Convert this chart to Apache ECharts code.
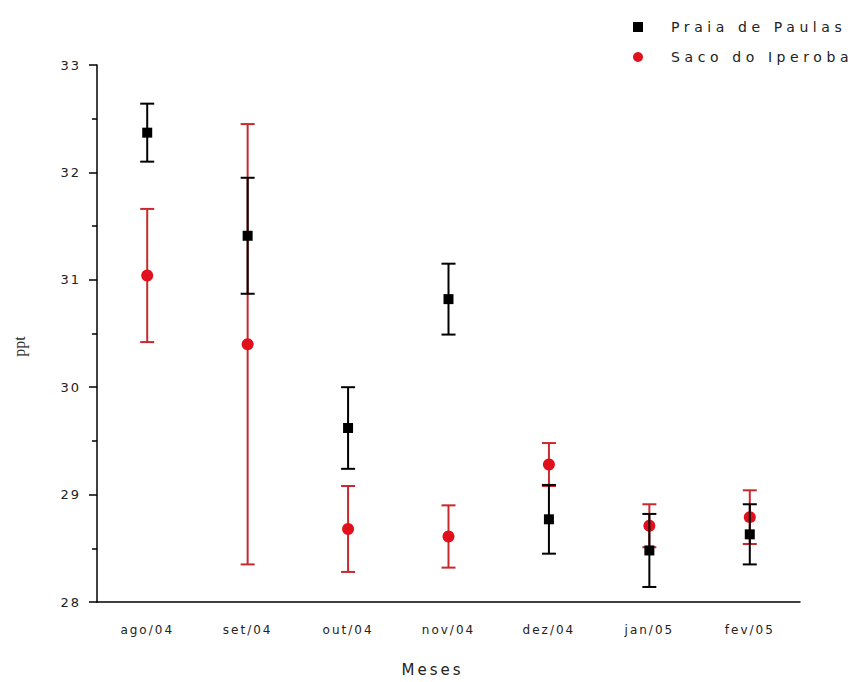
<!DOCTYPE html>
<html>
<head>
<meta charset="utf-8">
<script src="https://cdn.jsdelivr.net/npm/echarts@6/dist/echarts.min.js"></script>
<style>
html,body{margin:0;padding:0;background:#fff;}
#chart{width:862px;height:682px;}
#chart text{letter-spacing:2px;}
#chart text[style*="14px"]{letter-spacing:4.6px;}
#chart text[style*="15px"]{letter-spacing:3px;}
#chart text[style*="Serif"]{letter-spacing:0px;}
</style>
</head>
<body>
<div id="chart"></div>
<script>
// Data
var months = ['ago/04', 'set/04', 'out/04', 'nov/04', 'dez/04', 'jan/05', 'fev/05'];
var seriesNames = ['Praia de Paulas', 'Saco do Iperoba'];
var praiaMean = [32.37, 31.41, 29.62, 30.82, 28.77, 28.48, 28.63];
var praiaErr  = [0.27, 0.54, 0.38, 0.33, 0.32, 0.34, 0.28];
var sacoMean  = [31.04, 30.40, 28.68, 28.61, 29.28, 28.71, 28.79];
var sacoErr   = [0.62, 2.05, 0.40, 0.29, 0.20, 0.20, 0.25];
var yTicks = [28, 29, 30, 31, 32, 33];

function errData(mean, err) {
  return mean.map(function (m, i) { return [i, m - err[i], m + err[i]]; });
}
function errRender(color) {
  return function (params, api) {
    var x = api.value(0);
    var lo = api.coord([x, api.value(1)]);
    var hi = api.coord([x, api.value(2)]);
    var hw = 7;
    var st = { stroke: color, lineWidth: 2 };
    return {
      type: 'group',
      children: [
        { type: 'line', shape: { x1: lo[0], y1: lo[1], x2: hi[0], y2: hi[1] }, style: st },
        { type: 'line', shape: { x1: lo[0] - hw, y1: lo[1], x2: lo[0] + hw, y2: lo[1] }, style: st },
        { type: 'line', shape: { x1: hi[0] - hw, y1: hi[1], x2: hi[0] + hw, y2: hi[1] }, style: st }
      ]
    };
  };
}

var chart = echarts.init(document.getElementById('chart'), null, { renderer: 'svg' });
var fontSans = 'DejaVu Sans';
chart.setOption({
  animation: false,
  backgroundColor: '#ffffff',
  grid: { left: 97, top: 65, width: 703, height: 541 },
  legend: {
    orient: 'vertical',
    left: 628,
    top: 15,
    itemGap: 16,
    itemWidth: 10,
    itemHeight: 10,
    data: [
      { name: seriesNames[0], icon: 'rect' },
      { name: seriesNames[1], icon: 'circle' }
    ],
    textStyle: { fontFamily: fontSans, fontSize: 14, color: '#222', padding: [0, 0, 0, 23] }
  },
  xAxis: [
    {
      type: 'category',
      data: months,
      boundaryGap: true,
      name: 'Meses',
      nameLocation: 'middle',
      nameGap: 60,
      nameTextStyle: { fontFamily: fontSans, fontSize: 15, color: '#222', padding: [0, 32, 0, 0] },
      axisLine: { lineStyle: { color: '#000', width: 1.5 } },
      axisTick: { alignWithLabel: true, length: 8, lineStyle: { color: '#000', width: 1.5 } },
      axisLabel: { fontFamily: fontSans, fontSize: 12, color: '#222', margin: 22 },
      splitLine: { show: false }
    },
    {
      type: 'category',
      data: months,
      boundaryGap: true,
      position: 'bottom',
      axisLine: { show: false },
      axisTick: { length: 5, lineStyle: { color: '#000', width: 1.5 } },
      axisLabel: { show: false },
      splitLine: { show: false }
    }
  ],
  yAxis: {
    type: 'value',
    min: yTicks[0],
    max: yTicks[yTicks.length - 1],
    interval: 1,
    name: 'ppt',
    nameLocation: 'middle',
    nameGap: 70,
    nameTextStyle: { fontFamily: 'Liberation Serif', fontSize: 16, color: '#333', padding: [0, 26, 0, 0] },
    axisLine: { show: true, lineStyle: { color: '#000', width: 1.5 } },
    axisTick: { show: true, length: 8, lineStyle: { color: '#000', width: 1.5 } },
    minorTick: { show: true, splitNumber: 2, length: 5, lineStyle: { color: '#000', width: 1.5 } },
    axisLabel: { fontFamily: fontSans, fontSize: 13, color: '#222', margin: 16 },
    splitLine: { show: false }
  },
  series: [
    {
      name: seriesNames[0], type: 'scatter', symbol: 'rect', symbolSize: 10,
      itemStyle: { color: '#000', opacity: 1 }, z: 5,
      data: praiaMean.map(function (v, i) { return [i, v]; })
    },
    {
      name: seriesNames[1], type: 'scatter', symbol: 'circle', symbolSize: 12,
      itemStyle: { color: '#e0101c', opacity: 1 }, z: 3,
      data: sacoMean.map(function (v, i) { return [i, v]; })
    },
    {
      name: seriesNames[1], type: 'custom', z: 2,
      renderItem: errRender('#c62a2e'),
      encode: { x: 0, y: [1, 2] },
      data: errData(sacoMean, sacoErr)
    },
    {
      name: seriesNames[0], type: 'custom', z: 4,
      renderItem: errRender('#000000'),
      encode: { x: 0, y: [1, 2] },
      data: errData(praiaMean, praiaErr)
    }
  ]
});
</script>
</body>
</html>
